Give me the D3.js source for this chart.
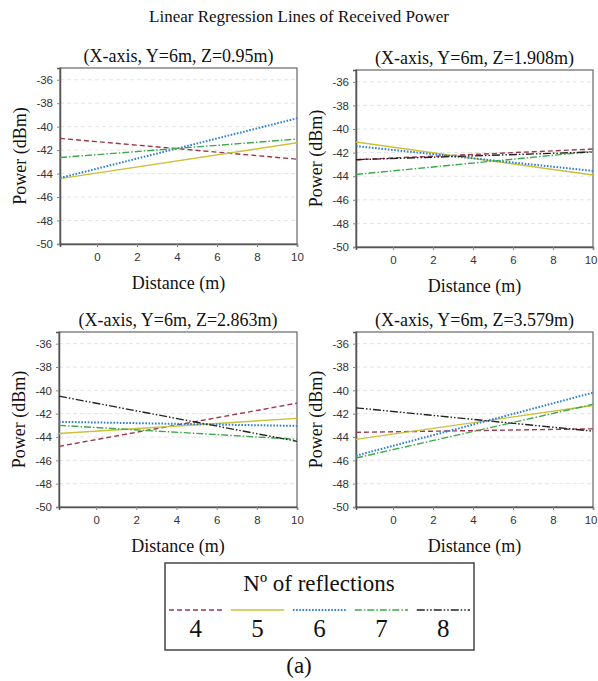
<!DOCTYPE html>
<html>
<head>
<meta charset="utf-8">
<script src="https://cdn.jsdelivr.net/npm/d3@7"></script>
<style>
  body { margin: 0; background: #fff; }
  svg { display: block; }
  .serif { font-family: "Liberation Serif", "Times New Roman", serif; fill: #111; }
</style>
</head>
<body>
<div id="chart"></div>
<script>
// number of reflections (one line per entry)
var reflections = [4, 5, 6, 7, 8];
var lineColors = ["#9b3a4c", "#c9c23a", "#2f7fd8", "#3ea84a", "#222222"];
var lineDashes = ["5,3", null, "1.6,1.6", "7,2,1.5,2", "8,2,1.5,2,1.5,2"];

var panelTitles = [
    "(X-axis, Y=6m, Z=0.95m)",
    "(X-axis, Y=6m, Z=1.908m)",
    "(X-axis, Y=6m, Z=2.863m)",
    "(X-axis, Y=6m, Z=3.579m)"
];

// distance at the two ends of each regression line
var distEnds = [-1.85, 10];

// power (dBm) at the left and right end, per reflection count (null = not drawn)
var powerZ095 = [[-41.0, -42.77], [-44.43, -41.37], [-44.37, -39.29], [-42.63, -41.06], null];
var powerZ1908 = [[-42.6, -41.7], [-41.1, -43.9], [-41.45, -43.55], [-43.85, -41.9], [-42.6, -41.95]];
var powerZ2863 = [[-44.8, -41.1], [-43.7, -42.4], [-42.7, -43.05], [-43.0, -44.2], [-40.5, -44.37]];
var powerZ3579 = [[-43.6, -43.3], [-44.2, -41.3], [-45.6, -40.2], [-45.8, -41.2], [-41.5, -43.5]];

var yTicks = [-50, -48, -46, -44, -42, -40, -38, -36];
var xTicks = [0, 2, 4, 6, 8, 10];

var width = 598,
    height = 681;

var panels = [
    { title: panelTitles[0], data: powerZ095, left: 60, right: 297, top: 68, bottom: 244 },
    { title: panelTitles[1], data: powerZ1908, left: 356, right: 593, top: 70, bottom: 247 },
    { title: panelTitles[2], data: powerZ2863, left: 59, right: 297, top: 332, bottom: 507 },
    { title: panelTitles[3], data: powerZ3579, left: 356, right: 593, top: 332, bottom: 507 }
];

var svg = d3.select("#chart")
    .append("svg")
    .attr("width", width)
    .attr("height", height);

svg.append("text")
    .attr("class", "serif")
    .attr("x", 299)
    .attr("y", 22)
    .attr("text-anchor", "middle")
    .style("font-size", "17px")
    .text("Linear Regression Lines of Received Power");

function drawPanel(p) {
    var x = d3.scaleLinear().domain([distEnds[0], 10]).range([p.left, p.right]);
    var y = d3.scaleLinear().domain([-50, -35]).range([p.bottom, p.top]);

    var g = svg.append("g");

    // faint dashed gridlines
    g.selectAll(".grid")
        .data(yTicks.filter(function(d) { return d > -50; }))
        .enter()
        .append("line")
        .attr("x1", p.left)
        .attr("x2", p.right)
        .attr("y1", function(d) { return y(d); })
        .attr("y2", function(d) { return y(d); })
        .style("stroke", "#e4e4e4")
        .style("stroke-dasharray", "4,3");

    // frame
    g.append("rect")
        .attr("x", p.left)
        .attr("y", p.top)
        .attr("width", p.right - p.left)
        .attr("height", p.bottom - p.top)
        .style("fill", "none")
        .style("stroke", "#666")
        .style("stroke-width", 1.2);

    var yAxis = g.append("g")
        .attr("transform", "translate(" + p.left + ",0)")
        .call(d3.axisLeft(y).tickValues(yTicks).tickSize(3).tickPadding(4));
    var xAxis = g.append("g")
        .attr("transform", "translate(0," + p.bottom + ")")
        .call(d3.axisBottom(x).tickValues(xTicks).tickSize(3).tickPadding(6));

    [yAxis, xAxis].forEach(function(a) {
        a.select(".domain").style("stroke", "#555").style("stroke-width", 1.5);
        a.selectAll(".tick line").style("stroke", "#888");
        a.selectAll(".tick text")
            .style("font-family", "Liberation Sans, Arial, sans-serif")
            .style("font-size", "11.5px")
            .style("fill", "#333")
            .text(function(d) { return String(d); });
    });

    // keep the last x label inside the page on the right-hand panels
    if (p.right > width - 10) {
        xAxis.selectAll(".tick text")
            .filter(function(d) { return d == 10; })
            .attr("text-anchor", "end")
            .attr("dx", 4);
    }

    // regression lines
    var line = d3.line()
        .x(function(d) { return x(d[0]); })
        .y(function(d) { return y(d[1]); });

    p.data.forEach(function(v, i) {
        if (!v) return;
        g.append("path")
            .attr("d", line([[distEnds[0], v[0]], [distEnds[1], v[1]]]))
            .style("fill", "none")
            .style("stroke", lineColors[i])
            .style("stroke-width", i == 2 ? 2 : 1.4)
            .style("stroke-dasharray", lineDashes[i]);
    });

    var cx = (p.left + p.right) / 2;
    g.append("text")
        .attr("class", "serif")
        .attr("x", cx)
        .attr("y", p.top - 6)
        .attr("text-anchor", "middle")
        .style("font-size", "18px")
        .text(p.title);

    g.append("text")
        .attr("class", "serif")
        .attr("x", cx)
        .attr("y", p.bottom + 45)
        .attr("text-anchor", "middle")
        .style("font-size", "18px")
        .text("Distance (m)");

    g.append("text")
        .attr("class", "serif")
        .attr("transform", "translate(" + (p.left - 34) + "," + ((p.top + p.bottom) / 2) + ") rotate(-90)")
        .attr("text-anchor", "middle")
        .style("font-size", "18px")
        .text("Power (dBm)");
}

panels.forEach(drawPanel);

// legend
var legend = svg.append("g");
legend.append("rect")
    .attr("x", 165)
    .attr("y", 563)
    .attr("width", 309)
    .attr("height", 87)
    .style("fill", "#fff")
    .style("stroke", "#444")
    .style("stroke-width", 1.5);

legend.append("text")
    .attr("class", "serif")
    .attr("x", 319)
    .attr("y", 591)
    .attr("text-anchor", "middle")
    .style("font-size", "23px")
    .text("Nº of reflections");

var lx = d3.scaleBand().domain(reflections).range([169, 470]).paddingInner(0.14);

legend.selectAll(".sample")
    .data(reflections)
    .enter()
    .append("line")
    .attr("x1", function(d) { return lx(d); })
    .attr("x2", function(d) { return lx(d) + lx.bandwidth(); })
    .attr("y1", 610)
    .attr("y2", 610)
    .style("stroke", function(d, i) { return lineColors[i]; })
    .style("stroke-width", function(d, i) { return i == 2 ? 2 : 1.4; })
    .style("stroke-dasharray", function(d, i) { return lineDashes[i]; });

legend.selectAll(".num")
    .data(reflections)
    .enter()
    .append("text")
    .attr("class", "serif")
    .attr("x", function(d) { return lx(d) + lx.bandwidth() / 2; })
    .attr("y", 637)
    .attr("text-anchor", "middle")
    .style("font-size", "25px")
    .text(function(d) { return d; });

svg.append("text")
    .attr("class", "serif")
    .attr("x", 299)
    .attr("y", 673)
    .attr("text-anchor", "middle")
    .style("font-size", "23px")
    .text("(a)");
</script>
</body>
</html>
